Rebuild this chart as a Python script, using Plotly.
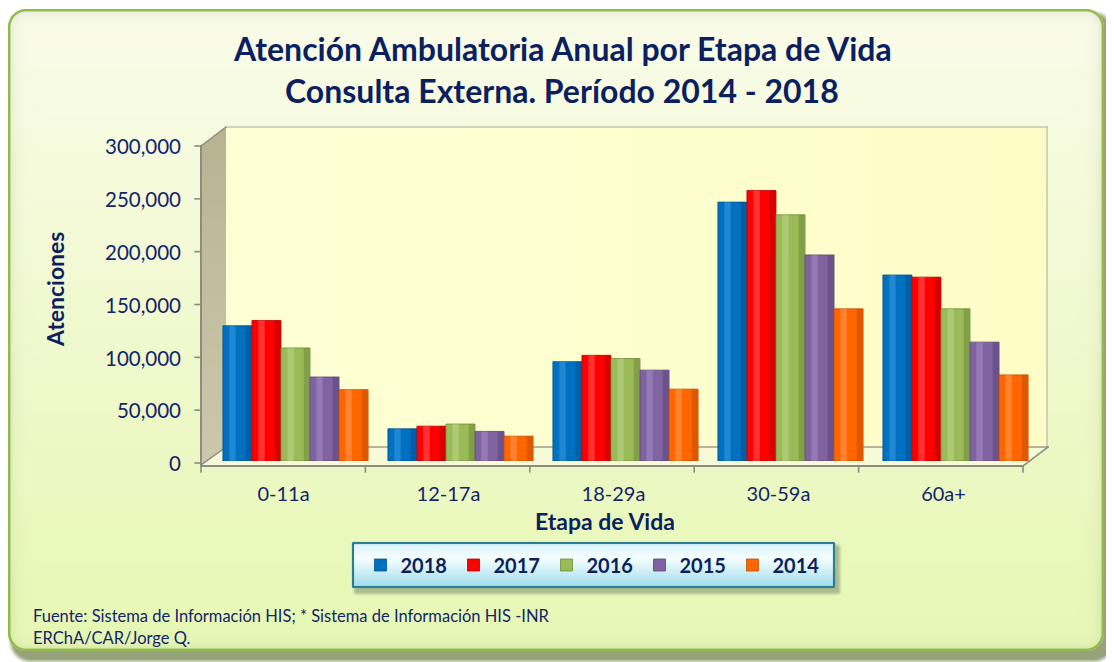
import base64, struct, zlib
import numpy as np
import plotly.graph_objects as go

# ---------------- data ----------------
categories = ["0-11a", "12-17a", "18-29a", "30-59a", "60a+"]
years = ["2018", "2017", "2016", "2015", "2014"]
v2018 = [128000, 30500, 94000, 245000, 176000]
v2017 = [133000, 33000, 100000, 256000, 174000]
v2016 = [107000, 35000, 97000, 233000, 144000]
v2015 = [79500, 28000, 86000, 195000, 112500]
v2014 = [67500, 23500, 68000, 144000, 81500]
y_ticks = [0, 50000, 100000, 150000, 200000, 250000, 300000]
title_1 = "Atención Ambulatoria Anual por Etapa de Vida"
title_2 = "Consulta Externa. Período 2014 - 2018"
x_title = "Etapa de Vida"
y_title = "Atenciones"
source_1 = "Fuente: Sistema de Información HIS; * Sistema de Información HIS -INR"
source_2 = "ERChA/CAR/Jorge Q."

series_values = [v2018, v2017, v2016, v2015, v2014]
main_colors = ["#0070c0", "#ff0000", "#9bbb59", "#8064a2", "#ff6600"]
edge_colors = ["#00508f", "#b80000", "#6f8b3a", "#5a4479", "#c24d00"]
light_colors = ["#3b9ae0", "#ff5a5a", "#bcd68a", "#a48cc4", "#ff9a55"]

# ---------------- geometry (reference pixels) ----------------
W, H = 1114, 662
OFF = 8  # page body margin: figure is drawn 8px right/down in the window
L, R, T, B = 213, 1038, 144, 461
PW, PH = R - L, B - T
YMAX = 300000


def px_x(px):
    return (px - L) / PW


def px_y(py):
    return (B - py) / PH


# ---------------- background picture (frame, 3D walls, legend box) ----------------
yy, xx = np.mgrid[0:H, 0:W].astype(float) + 0.5
img = np.full((H, W, 3), 255.0)


def blend(alpha, color):
    a = np.clip(alpha, 0, 1)[..., None]
    img[:] = img * (1 - a) + np.array(color, float) * a


def rrect_sdf(x0, y0, x1, y1, r):
    cx, cy = (x0 + x1) / 2, (y0 + y1) / 2
    hx, hy = (x1 - x0) / 2 - r, (y1 - y0) / 2 - r
    qx = np.abs(xx - cx) - hx
    qy = np.abs(yy - cy) - hy
    return np.hypot(np.maximum(qx, 0), np.maximum(qy, 0)) + np.minimum(np.maximum(qx, qy), 0) - r


def convex_mask(pts):
    m = np.ones((H, W), bool)
    n = len(pts)
    area = sum(pts[i][0] * pts[(i + 1) % n][1] - pts[(i + 1) % n][0] * pts[i][1] for i in range(n))
    s = 1 if area > 0 else -1
    for i in range(n):
        x0, y0 = pts[i]
        x1, y1 = pts[(i + 1) % n]
        cr = (x1 - x0) * (yy - y0) - (y1 - y0) * (xx - x0)
        m &= (cr * s >= 0)
    return m


def seg(x0, y0, x1, y1, w, color, op=1.0):
    dx, dy = x1 - x0, y1 - y0
    ln2 = dx * dx + dy * dy
    t = np.clip(((xx - x0) * dx + (yy - y0) * dy) / ln2, 0, 1)
    d = np.hypot(xx - (x0 + t * dx), yy - (y0 + t * dy))
    blend(np.clip(w / 2 + 0.5 - d, 0, 1) * op, color)


def lerp3(c0, c1, t):
    t = np.clip(t, 0, 1)[..., None]
    return np.array(c0, float) * (1 - t) + np.array(c1, float) * t


# outer shadow / bevel
d_sh = rrect_sdf(11, 13, 1113, 661, 20)
blend(np.clip(1 - (d_sh + 2) / 5, 0, 1) * 0.85, (132, 146, 98))

# main rounded panel
d = rrect_sdf(8, 9, 1104, 651, 18)
t = (yy - 9) / 642
top_c, mid_c, bot_c = (250, 252, 234), (241, 249, 207), (230, 248, 180)
grad = np.where((t < 0.5)[..., None], lerp3(top_c, mid_c, t * 2), lerp3(mid_c, bot_c, (t - 0.5) * 2))
a_in = np.clip(0.5 - d, 0, 1)[..., None]
img[:] = img * (1 - a_in) + grad * a_in
s_in = np.maximum(-d, 0)
blend(np.where(d < 0, 0.28 * np.exp(-s_in / 5.0), 0), (150, 160, 130))
blend(np.clip(1.7 - np.abs(d + 1.2), 0, 1), (146, 186, 72))

# back wall
wall = convex_mask([(226, 127), (1047, 127), (1047, 447), (226, 447)])
wg = lerp3((255, 255, 214), (254, 253, 200), (xx - 226) / 821)
img[wall] = wg[wall]

# side wall
side = convex_mask([(201, 146), (226, 127), (226, 447), (201, 465)])
sg = lerp3((184, 180, 146), (204, 200, 172), (yy - 127) / 340)
img[side] = sg[side]

# floor
floor = convex_mask([(201, 465), (1023, 465), (1048, 447), (226, 447)])
img[floor] = np.array((246, 250, 214), float)

gray = (140, 140, 128)
lgray = (185, 185, 165)
seg(226, 127, 1047, 127, 1.2, lgray)
seg(1047, 127, 1047, 447, 1.2, lgray)
seg(226, 447, 1048, 447, 1.4, (150, 150, 135))
seg(201, 146, 226, 127, 1.4, gray)
seg(201, 146, 201, 466, 2.0, gray)
seg(201, 465, 226, 447, 1.4, gray)
seg(201, 466, 1023, 466, 2.0, gray)
seg(1023, 466, 1048, 447, 1.6, gray)
for k in range(len(y_ticks)):
    ty = 463 - k * (317.0 / 6)
    seg(195, ty, 201, ty, 1.6, gray)
for k in range(len(categories) + 1):
    tx = 201 + k * 164.4
    seg(tx, 466, tx, 472, 1.6, gray)

# legend box
d_ls = rrect_sdf(355, 546, 839, 593, 2)
blend(np.clip(1 - (d_ls + 1) / 4, 0, 1) * 0.5, (110, 130, 100))
d_l = rrect_sdf(352, 542, 835, 588, 1.5)
tl = (yy - 542) / 46
lg = np.where((tl < 0.35)[..., None], lerp3((214, 243, 250), (246, 254, 255), tl / 0.35),
              lerp3((246, 254, 255), (158, 219, 236), (tl - 0.35) / 0.65))
a_l = np.clip(0.5 - d_l, 0, 1)[..., None]
img[:] = img * (1 - a_l) + lg * a_l
blend(np.clip(1.6 - np.abs(d_l + 1.0), 0, 1), (47, 125, 146))


def to_png(arr):
    arr = np.clip(arr, 0, 255).astype(np.uint8)
    h, w, _ = arr.shape
    raw = b"".join(b"\x00" + arr[i].tobytes() for i in range(h))

    def chunk(tag, data):
        c = struct.pack(">I", len(data)) + tag + data
        return c + struct.pack(">I", zlib.crc32(tag + data) & 0xFFFFFFFF)

    return (b"\x89PNG\r\n\x1a\n" + chunk(b"IHDR", struct.pack(">IIBBBBB", w, h, 8, 2, 0, 0, 0))
            + chunk(b"IDAT", zlib.compress(raw, 9)) + chunk(b"IEND", b""))


bg_src = "data:image/png;base64," + base64.b64encode(to_png(img)).decode()

# ---------------- figure ----------------
FONT = "Lato"
NAVY = "#14246a"
TNAVY = "#0c1f5e"

fig = go.Figure()
n = len(years)
group = 0.88
bw = group / n
for i, (yr, vals) in enumerate(zip(years, series_values)):
    off = -group / 2 + i * bw
    fig.add_bar(x=categories, y=vals, name=yr, offset=off, width=bw,
                marker=dict(color=main_colors[i], line=dict(width=0.8, color=edge_colors[i])),
                legendgroup=yr, showlegend=True)
    fig.add_bar(x=categories, y=vals, name=yr, offset=off + bw * 0.78, width=bw * 0.2,
                marker=dict(color=edge_colors[i], line=dict(width=0)), opacity=0.55,
                legendgroup=yr, showlegend=False, hoverinfo="skip")
    fig.add_bar(x=categories, y=vals, name=yr, offset=off + bw * 0.22, width=bw * 0.22,
                marker=dict(color=light_colors[i], line=dict(width=0)), opacity=0.55,
                legendgroup=yr, showlegend=False, hoverinfo="skip")

fig.add_layout_image(dict(source=bg_src, xref="paper", yref="paper", x=px_x(0), y=px_y(0),
                          sizex=W / PW, sizey=H / PH, xanchor="left", yanchor="top",
                          sizing="stretch", layer="below"))

BOLD = dict(color=TNAVY, family=FONT, weight="bold")
annos = [
    dict(text=title_1, x=px_x(562), y=px_y(48), font=dict(size=32, **BOLD)),
    dict(text=title_2, x=px_x(562), y=px_y(91), font=dict(size=32, **BOLD)),
    dict(text=y_title, x=px_x(55), y=px_y(290), textangle=-90, font=dict(size=23, **BOLD)),
    dict(text=x_title, x=px_x(605), y=px_y(521), font=dict(size=23, **BOLD)),
    dict(text=source_1, x=px_x(31), y=px_y(616), xanchor="left", font=dict(size=16.5, color=NAVY, family=FONT)),
    dict(text=source_2, x=px_x(31), y=px_y(638), xanchor="left", font=dict(size=16.5, color=NAVY, family=FONT)),
]
for a in annos:
    a.setdefault("xanchor", "center")
    a.update(xref="paper", yref="paper", yanchor="middle", showarrow=False)

fig.update_layout(
    width=W, height=H,
    margin=dict(l=L - OFF, r=W - (R - OFF), t=T - OFF, b=H - (B - OFF), pad=0),
    paper_bgcolor="white", plot_bgcolor="rgba(0,0,0,0)",
    barmode="overlay",
    annotations=annos,
    font=dict(family=FONT, color=NAVY),
    legend=dict(orientation="h", x=px_x(593), xanchor="center", y=px_y(565), yanchor="middle",
                bgcolor="rgba(0,0,0,0)", borderwidth=0,
                font=dict(size=20, **BOLD),
                entrywidth=48, entrywidthmode="pixels", itemclick=False, itemdoubleclick=False),
    xaxis=dict(range=[-0.5, len(categories) - 0.5], showgrid=False, zeroline=False, showline=False,
               ticks="", tickfont=dict(size=20, color=NAVY, family=FONT),
               ticklabelshift=-12, ticklabelstandoff=19, fixedrange=True),
    yaxis=dict(range=[0, YMAX], tickvals=y_ticks, tickformat=",", showgrid=False, zeroline=False,
               showline=False, ticks="", tickfont=dict(size=20.5, color=NAVY, family=FONT),
               ticklabelstandoff=31, ticklabelshift=3, fixedrange=True),
    showlegend=True,
)

fig.write_html("out.html")
